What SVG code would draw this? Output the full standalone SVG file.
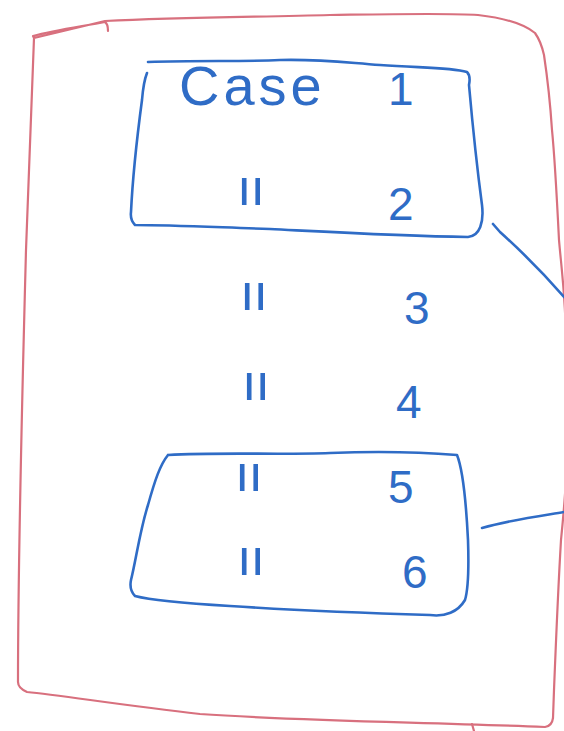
<svg xmlns="http://www.w3.org/2000/svg" width="564" height="731" viewBox="0 0 564 731">
<style>
.red{fill:none;stroke:#d8707e;stroke-width:2.2;stroke-linecap:round;stroke-linejoin:round}
.blue{fill:none;stroke:#2f6cc6;stroke-width:2.6;stroke-linecap:round;stroke-linejoin:round}
.t{font-family:"Liberation Sans","DejaVu Sans",sans-serif;fill:#2f6cc6}
.num{font-size:46px}
.dit{font-size:52px;letter-spacing:-1px}
</style>
<rect width="564" height="731" fill="#ffffff"/>
<g id="frame">
<path class="red" d="M34,38 L33,36 C55,30 85,26 105,22 Q108,24 108,31 M105,21 C180,17 260,17 330,15 C400,14 450,13 478,15 C505,18 525,25 535,33 C540,40 542,46 544,55 C547,75 550,100 552,130 C555,160 557,200 559,240 C562,275 566,295 568,400 C568,470 564,510 561,540 C558,590 556,640 554,690 L553,718 Q552,726 545,727 C420,722 300,721 200,714 C120,705 60,695 27,692 Q18,688 18,682 C18,600 22,400 26,250 C29,160 32,80 34,38 Z"/>
<path class="red" d="M472,724 L474,731"/>
</g>
<g id="case12">
<path class="blue" d="M148,62 C200,60 240,62 280,60 C320,59 340,62 380,65 C420,68 450,67 467,72 C470,75 470,80 469,85 C473,130 478,175 482,205 C484,222 480,236 468,237 C400,236 330,232 270,229 C210,227 170,225 135,225 Q130,220 131,212 C133,170 138,130 142,100 C143,88 145,78 147,73"/>
<text class="t" x="179" y="105" font-size="56" letter-spacing="4">Case</text>
<text class="t num" x="388" y="105">1</text>
<text class="t dit" x="237" y="205">ıı</text>
<text class="t num" x="388" y="220">2</text>
</g>
<g id="case3">
<text class="t dit" x="240" y="310">ıı</text>
<text class="t num" x="404" y="324">3</text>
</g>
<g id="case4">
<text class="t dit" x="242" y="400">ıı</text>
<text class="t num" x="396" y="418">4</text>
</g>
<g id="case56">
<path class="blue" d="M168,455 C220,452 280,455 330,453 C380,451 420,452 457,455 C463,470 466,500 468,540 C469,570 468,590 465,600 C458,612 445,617 430,615 C360,613 290,610 230,606 C180,603 150,600 135,596 Q129,590 131,580 C136,560 140,530 148,505 C155,480 160,465 168,455"/>
<text class="t dit" x="235" y="491">ıı</text>
<text class="t num" x="388" y="503">5</text>
<text class="t dit" x="237" y="575">ıı</text>
<text class="t num" x="402" y="588">6</text>
</g>
<g id="connectors">
<path class="blue" d="M493,224 L500,232 C520,250 545,275 564,297"/>
<path class="blue" d="M482,528 C510,520 540,516 564,512"/>
</g>
</svg>
